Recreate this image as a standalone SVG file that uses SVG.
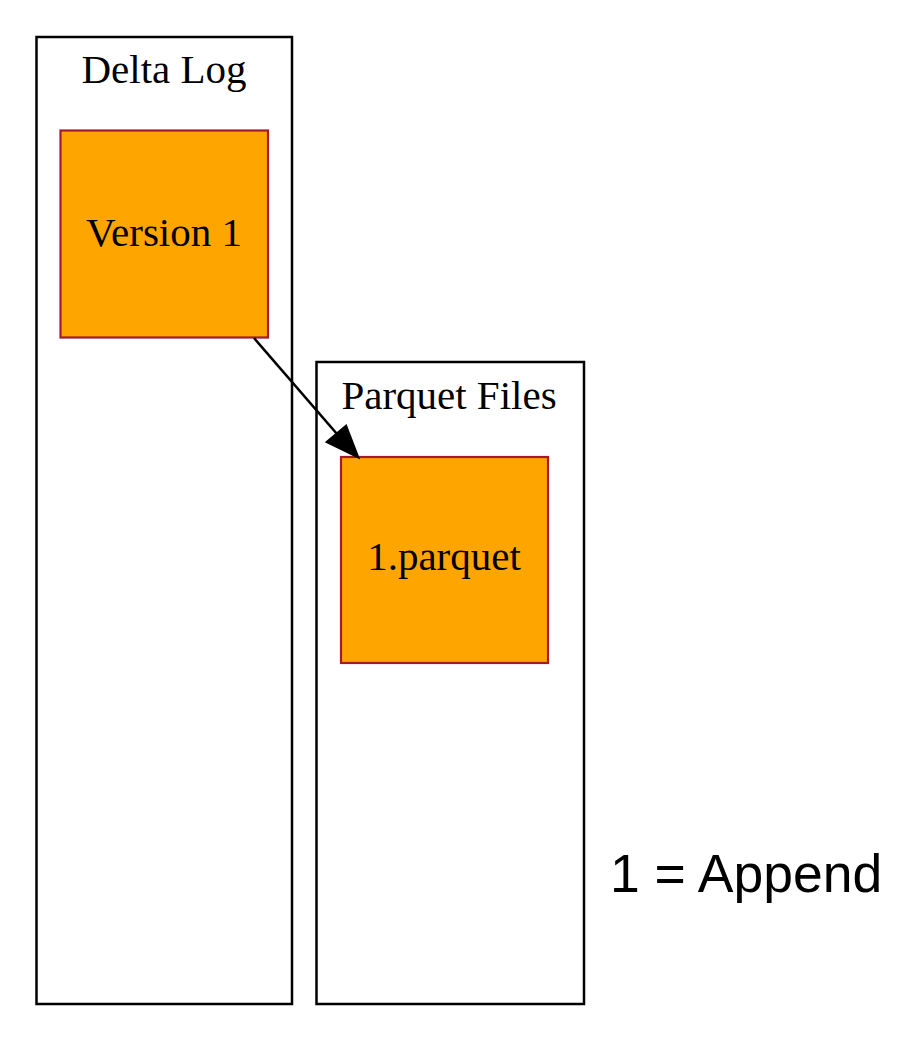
<svg xmlns="http://www.w3.org/2000/svg" width="900" height="1042" viewBox="0 0 900 1042">
<style>
.cluster{fill:none;stroke:#000;stroke-width:2.5}
.node{fill:#ffa500;stroke:#a21b2c;stroke-width:2.2}
.lbl{font-family:"Liberation Serif","Times New Roman",serif;font-size:41px;fill:#000;text-anchor:middle}
.edge{stroke:#000;stroke-width:2.6;fill:none}
</style>
<rect width="900" height="1042" fill="#fff"/>
<g id="cluster_delta">
<rect class="cluster" x="36.5" y="37" width="255.5" height="967"/>
<text class="lbl" x="164" y="83">Delta Log</text>
</g>
<g id="cluster_parquet">
<rect class="cluster" x="316.5" y="362" width="267.5" height="642"/>
<text class="lbl" x="449" y="409">Parquet Files</text>
</g>
<g id="node_version1">
<rect class="node" x="60.5" y="130.5" width="207.5" height="207"/>
<text class="lbl" x="164" y="246">Version 1</text>
</g>
<g id="node_parquet1">
<rect class="node" x="341" y="457" width="207" height="206"/>
<text class="lbl" x="444" y="570">1.parquet</text>
</g>
<g id="connectors">
<line class="edge" x1="254" y1="338" x2="337" y2="434"/>
<polygon points="327,442 346,426 358,457" fill="#000" stroke="#000" stroke-width="2.4"/>
</g>
<g id="legend">
<text x="610" y="892" font-family="'Liberation Sans',Arial,Helvetica,sans-serif" font-size="53.5" fill="#000">1 = Append</text>
</g>
</svg>
